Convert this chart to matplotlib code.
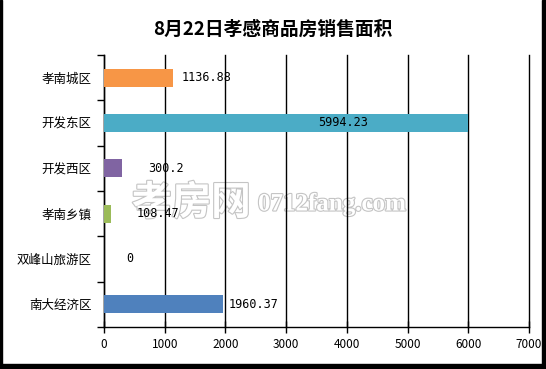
import matplotlib
matplotlib.use("Agg")
import matplotlib.pyplot as plt
import matplotlib.patheffects as pe
from matplotlib.patches import Rectangle

plt.rcParams['font.family'] = ['Noto Sans CJK SC', 'DejaVu Sans']

# data (top to bottom as drawn)
categories = ["孝南城区", "开发东区", "开发西区", "孝南乡镇", "双峰山旅游区", "南大经济区"]
values = [1136.88, 5994.23, 300.2, 108.47, 0, 1960.37]
value_labels = ["1136.88", "5994.23", "300.2", "108.47", "0", "1960.37"]
colors = ["#F79646", "#4BACC6", "#8064A2", "#9BBB59", "#4BACC6", "#4F81BD"]
x_ticks = [0, 1000, 2000, 3000, 4000, 5000, 6000, 7000]
title = "8月22日孝感商品房销售面积"

# label offsets in points from bar end (excel-ish placement)
label_offsets = [6, -108, 19, 19, 16, 4]

fig = plt.figure(figsize=(5.46, 3.69), dpi=100)
ax = fig.add_axes([104 / 546, 1 - 327 / 369, 425 / 546, 272 / 369])

n = len(categories)
ypos = list(range(n))
ax.barh(ypos, values, height=0.4, color=colors, zorder=3)

for y, v, lab, off in zip(ypos, values, value_labels, label_offsets):
    ax.annotate(lab, (v, y), xytext=(off, 0), textcoords="offset points",
                va="center", ha="left", fontsize=8.5, family="DejaVu Sans Mono",
                zorder=5)

ax.set_xlim(0, 7000)
ax.set_ylim(n - 0.5, -0.5)
ax.set_xticks(x_ticks)
ax.set_xticklabels([str(t) for t in x_ticks], fontsize=8.5)
ax.tick_params(axis="x", direction="inout", length=8, width=1, pad=4)
ax.grid(axis="x", color="black", linewidth=1, zorder=1)
for gl in ax.get_xgridlines():
    gl.set_clip_on(False)

ax.set_yticks([i - 0.5 for i in range(n + 1)])
ax.set_yticklabels([])
ax.tick_params(axis="y", which="major", direction="out", length=5, width=1)
ax.set_yticks(ypos, minor=True)
ax.set_yticklabels(categories, minor=True, fontsize=9)
ax.tick_params(axis="y", which="minor", length=0, pad=9)

ax.spines["top"].set_visible(False)
ax.spines["right"].set_visible(False)
for s in ("left", "bottom"):
    ax.spines[s].set_linewidth(1)
    ax.spines[s].set_color("black")

fig.text(0.5, 1 - 29 / 369, title, ha="center", va="center",
         fontsize=13.5, fontweight="bold")

# watermark (behind gridlines)
outline = [pe.withStroke(linewidth=1.6, foreground="#c4c4c4")]
ax.text(132 / 546, 1 - 203 / 369, "孝房网", transform=fig.transFigure,
        ha="left", va="center", fontsize=28.5, color="white", fontweight="bold",
        path_effects=outline, zorder=0.5)
ax.text(258 / 546, 1 - 204 / 369, "0712fang.com", transform=fig.transFigure,
        ha="left", va="center", fontsize=18, color="white", fontweight="bold",
        family="Liberation Serif", path_effects=outline, zorder=0.5)

# outer frame with shadow
fig.patches.append(Rectangle((0, 0), 2 / 546, 1, transform=fig.transFigure,
                             color="black"))
fig.patches.append(Rectangle((0, 0), 1, 5 / 369, transform=fig.transFigure,
                             color="black"))
fig.patches.append(Rectangle((542 / 546, 0), 4 / 546, 1, transform=fig.transFigure,
                             color="black"))

fig.savefig("out.png", dpi=100)
